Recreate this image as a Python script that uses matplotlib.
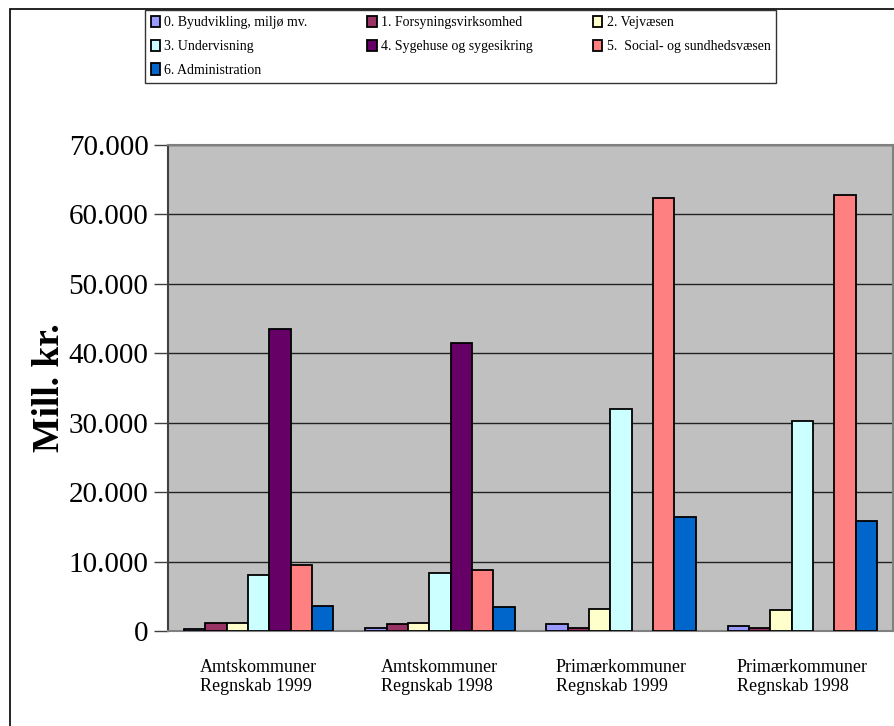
import numpy as np
import matplotlib
matplotlib.use("Agg")
from matplotlib import pyplot as plt
from matplotlib import ticker
from matplotlib.patches import Rectangle

categories = ["Amtskommuner\nRegnskab 1999", "Amtskommuner\nRegnskab 1998",
              "Primærkommuner\nRegnskab 1999", "Primærkommuner\nRegnskab 1998"]
series_names = ["0. Byudvikling, miljø mv.", "1. Forsyningsvirksomhed", "2. Vejvæsen",
                "3. Undervisning", "4. Sygehuse og sygesikring",
                "5.  Social- og sundhedsvæsen", "6. Administration"]
byudvikling = [350, 400, 1050, 750]
forsyning = [1100, 1050, 500, 500]
vejvaesen = [1200, 1150, 3150, 3000]
undervisning = [8050, 8300, 32000, 30300]
sygehuse = [43500, 41500, 0, 0]
social = [9500, 8750, 62300, 62800]
administration = [3600, 3400, 16400, 15900]
values = [byudvikling, forsyning, vejvaesen, undervisning, sygehuse, social, administration]
colors = ["#9999FF", "#993366", "#FFFFCC", "#CCFFFF", "#660066", "#FF8080", "#0066CC"]
yticks = [0, 10000, 20000, 30000, 40000, 50000, 60000, 70000]

plt.rcParams['font.family'] = ['Liberation Serif', 'DejaVu Serif']

W, H = 894, 726
fig = plt.figure(figsize=(W / 100, H / 100), dpi=100)
ax = fig.add_axes([168 / W, (H - 631) / H, (893 - 168) / W, (631 - 145) / H])
ax.set_facecolor("#C0C0C0")

# outer chart frame
fig.add_artist(Rectangle((10 / W, -0.05), 1.0, 1.05 - 9 / H, transform=fig.transFigure,
                         fill=False, edgecolor="black", linewidth=1.2, zorder=0))

x = np.arange(len(categories))
w = 1 / 8.5
handles = []
for j, (vals, col) in enumerate(zip(values, colors)):
    bars = ax.bar(x + (j - 3) * w, vals, width=w, color=col, edgecolor="black",
                  linewidth=1.3, zorder=3, label=series_names[j])
    for b in bars:
        if b.get_height() == 0:
            b.set_visible(False)
    handles.append(bars)

ax.set_xlim(-0.5, 3.5)
ax.set_ylim(0, 70000)
ax.set_yticks(yticks)
ax.yaxis.set_major_formatter(ticker.FuncFormatter(lambda v, p: f"{int(v):,}".replace(",", ".")))
ax.grid(axis="y", color="#222222", linewidth=1, zorder=1)
ax.set_axisbelow(True)
ax.tick_params(axis="y", length=10, width=1, color="#404040", labelsize=21, pad=4)
ax.set_xticks(x)
ax.set_xticklabels(categories, fontsize=13, linespacing=1.15)
for lbl in ax.get_xticklabels():
    lbl.set_multialignment("left")
ax.tick_params(axis="x", length=0, pad=20)
for s in ax.spines.values():
    s.set_color("#808080")
    s.set_linewidth(1.5)
ax.spines["left"].set_color("#404040")

ax.set_ylabel("Mill. kr.", fontsize=27, fontweight="bold")
ax.yaxis.set_label_coords((67 - 168) / 725, 0.50)

order = [0, 3, 6, 1, 4, 2, 5]
leg = fig.legend([handles[i] for i in order], [series_names[i] for i in order],
                 ncol=3, loc="upper left", mode="expand",
                 bbox_to_anchor=(145 / W, 1 - 91 / H, (776 - 145) / W, (91 - 10) / H),
                 fontsize=10, handlelength=0.7, handleheight=0.9, handletextpad=0.3,
                 labelspacing=0.75, borderaxespad=0, borderpad=0.4, frameon=True,
                 fancybox=False, edgecolor="black")
leg.get_frame().set_linewidth(1)

fig.savefig("out.png", dpi=100)
